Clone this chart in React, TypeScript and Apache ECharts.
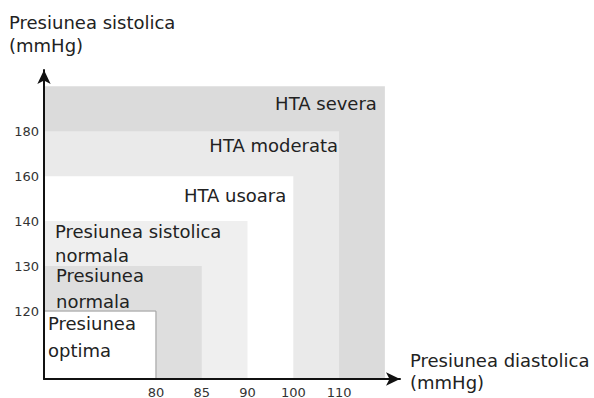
import React, { useEffect, useRef } from "react";
import * as echarts from "echarts";

// Tick labels (ordinal scales, one step per label)
const diastolicTicks = ["80", "85", "90", "100", "110"];
const systolicTicks = ["120", "130", "140", "160", "180"];

// Zones, drawn from the origin up to an upper bound given as a tick level
// (1 = first tick label ... 5 = last, 6 = beyond the last tick)
const zoneNames = [
  "HTA severa",
  "HTA moderata",
  "HTA usoara",
  "Presiunea sistolica\nnormala",
  "Presiunea\nnormala",
  "Presiunea\noptima",
];
const zoneDiastolicLevel = [6, 5, 4, 3, 2, 1];
const zoneSystolicLevel = [6, 5, 4, 3, 2, 1];

// Styles (kept apart from the data)
const zoneColors = ["#dbdbdb", "#eaeaea", "#ffffff", "#efefef", "#dedede", "#ffffff"];
const zoneBorder = [null, null, null, null, null, "#9a9a9a"];
// dx: from the rect edge; dy: first line centre below the rect top; gap: line spacing
const zoneLabelStyle = [
  { align: "right", dx: -8, dy: 17, gap: 22 },
  { align: "right", dx: -1, dy: 14, gap: 22 },
  { align: "right", dx: -7, dy: 19, gap: 22 },
  { align: "left", dx: 11, dy: 10, gap: 24 },
  { align: "left", dx: 12, dy: 9, gap: 26 },
  { align: "left", dx: 4, dy: 12, gap: 27 },
];

const X_MIN = -1.445;
const X_MAX = 6.33;
const Y_MIN = -0.511;
const Y_MAX = 6.36;

const TEXT_FONT = "DejaVu Sans";
const TICK_FONT = "DejaVu Sans";

export default function App() {
  const ref = useRef<HTMLDivElement>(null);

  useEffect(() => {
    if (!ref.current) return;
    const chart = echarts.init(ref.current, undefined, { renderer: "svg" });

    const data = zoneNames.map((n, i) => [zoneDiastolicLevel[i], zoneSystolicLevel[i], i]);

    chart.setOption({
      animation: false,
      backgroundColor: "#ffffff",
      grid: { left: 44, right: 194, top: 70, bottom: 19, outerBoundsMode: "none" },
      xAxis: {
        type: "value",
        min: X_MIN,
        max: X_MAX,
        z: 5,
        axisLine: {
          show: true,
          onZero: false,
          symbol: ["none", "arrow"],
          symbolSize: [10, 14],
          lineStyle: { color: "#111111", width: 2 },
        },
        axisTick: { show: false },
        splitLine: { show: false },
        axisLabel: {
          customValues: [1, 2, 3, 4, 5],
          formatter: (v: number) => diastolicTicks[Math.round(v) - 1] ?? "",
          margin: 7,
          fontSize: 13,
          lineHeight: 12,
          fontFamily: TICK_FONT,
          color: "#333333",
        },
      },
      yAxis: {
        type: "value",
        min: Y_MIN,
        max: Y_MAX,
        z: 5,
        axisLine: {
          show: true,
          onZero: false,
          symbol: ["none", "arrow"],
          symbolSize: [10, 14],
          lineStyle: { color: "#111111", width: 2 },
        },
        axisTick: { show: false },
        splitLine: { show: false },
        axisLabel: {
          customValues: [1, 2, 3, 4, 5],
          formatter: (v: number) => systolicTicks[Math.round(v) - 1] ?? "",
          margin: 5,
          fontSize: 13,
          fontFamily: TICK_FONT,
          color: "#333333",
        },
      },
      series: [
        {
          type: "custom",
          clip: false,
          z: 1,
          encode: { x: 0, y: 1 },
          data,
          renderItem: (params: any, api: any) => {
            const i = api.value(2);
            const p0 = api.coord([X_MIN, Y_MIN]);
            const p1 = api.coord([api.value(0), api.value(1)]);
            const s = zoneLabelStyle[i];
            const x = p0[0];
            const y = p1[1];
            const w = p1[0] - p0[0];
            const h = p0[1] - p1[1];
            const lines = zoneNames[i].split("\n");
            return {
              type: "group",
              children: [
                {
                  type: "rect",
                  shape: { x, y, width: w, height: h },
                  style: {
                    fill: zoneColors[i],
                    stroke: zoneBorder[i] || "none",
                    lineWidth: zoneBorder[i] ? 1 : 0,
                  },
                },
                ...lines.map((line, k) => ({
                  type: "text",
                  style: {
                    text: line,
                    x: s.align === "right" ? x + w + s.dx : x + s.dx,
                    y: y + s.dy + k * s.gap,
                    align: s.align,
                    verticalAlign: "middle",
                    lineHeight: 18,
                    fontSize: 18,
                    fontFamily: TEXT_FONT,
                    fill: "#222222",
                  },
                })),
              ],
            };
          },
        },
      ],
      graphic: [
        {
          type: "text",
          left: 9,
          top: 11,
          style: {
            text: "Presiunea sistolica",
            fontSize: 18,
            lineHeight: 22,
            fontFamily: TEXT_FONT,
            fill: "#222222",
          },
        },
        {
          type: "text",
          left: 9,
          top: 34,
          style: {
            text: "(mmHg)",
            fontSize: 18,
            lineHeight: 22,
            fontFamily: TEXT_FONT,
            fill: "#222222",
          },
        },
        {
          type: "text",
          left: 410,
          top: 349,
          style: {
            text: "Presiunea diastolica",
            fontSize: 18,
            lineHeight: 22,
            fontFamily: TEXT_FONT,
            fill: "#222222",
          },
        },
        {
          type: "text",
          left: 410,
          top: 371,
          style: {
            text: "(mmHg)",
            fontSize: 18,
            lineHeight: 22,
            fontFamily: TEXT_FONT,
            fill: "#222222",
          },
        },
      ],
    });

    return () => chart.dispose();
  }, []);

  return (
    <div
      ref={ref}
      style={{ position: "absolute", left: 0, top: 0, width: 594, height: 398, background: "#fff" }}
    />
  );
}
